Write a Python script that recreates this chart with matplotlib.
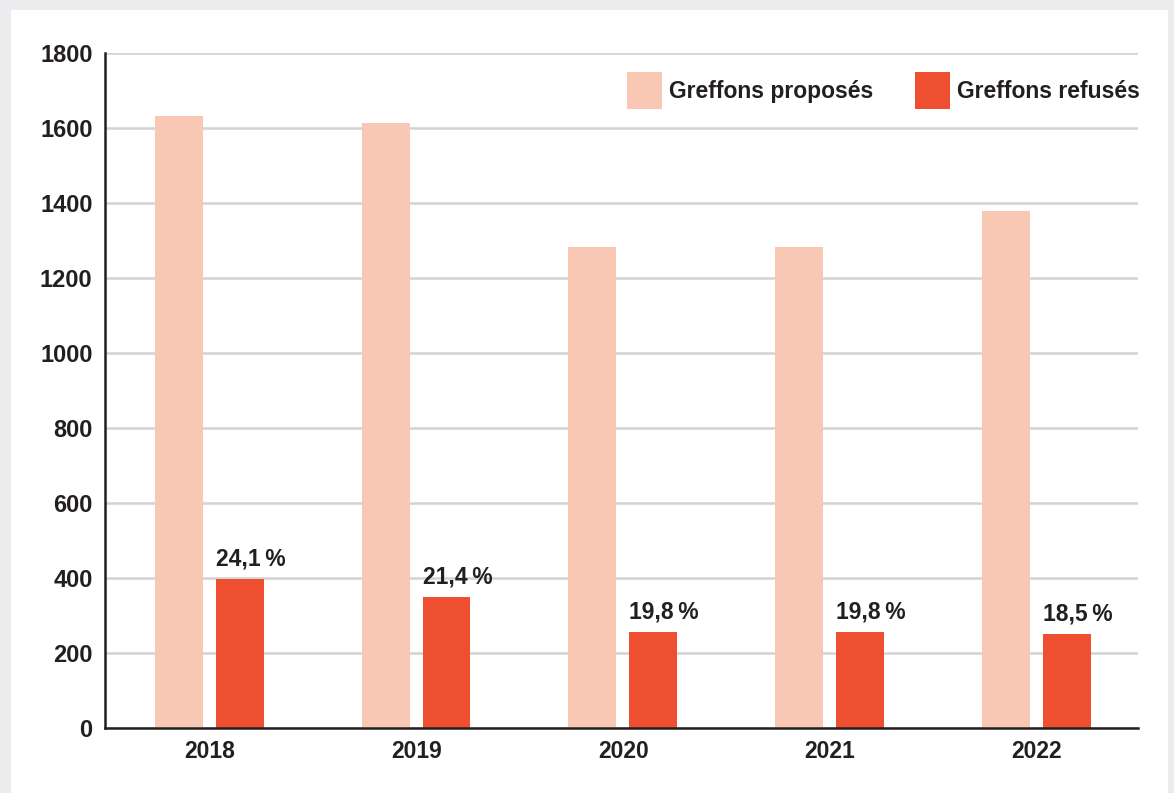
import matplotlib.pyplot as plt
from matplotlib.patches import Rectangle

plt.rcParams['font.family'] = ['Liberation Sans', 'DejaVu Sans']
plt.rcParams['font.weight'] = 'bold'

years = ['2018', '2019', '2020', '2021', '2022']
proposes = [1632, 1613, 1283, 1283, 1379]
refuses = [397, 349, 256, 256, 251]
taux = ['24,1\u2009%', '21,4\u2009%', '19,8\u2009%', '19,8\u2009%', '18,5\u2009%']

c_prop = '#f9c8b4'
c_ref = '#ee4f30'
c_text = '#231f20'

fig = plt.figure(figsize=(11.74, 7.93), dpi=100, facecolor='#ececee')
fig.patches.append(Rectangle((11 / 1174, 0), (1168 - 11) / 1174, (793 - 10) / 793,
                             transform=fig.transFigure, facecolor='white',
                             edgecolor='none', zorder=-5))
ax = fig.add_axes([105 / 1174, 65 / 793, 1033 / 1174, 675 / 793])
ax.set_facecolor('none')
ax.set_zorder(2)

x = range(len(years))
w = 0.232
ax.bar([i - 0.15 for i in x], proposes, width=w, color=c_prop, label='Greffons proposés', zorder=2)
bars = ax.bar([i + 0.145 for i in x], refuses, width=w, color=c_ref, label='Greffons refusés', zorder=2)

for b, t in zip(bars, taux):
    ax.annotate(t, (b.get_x(), b.get_height()), xytext=(0, 6), textcoords='offset points',
                ha='left', va='bottom', fontsize=16.5, fontweight='bold', color=c_text,
                family=['Liberation Sans', 'DejaVu Sans'])

ax.set_xlim(-0.507, 4.49)
ax.set_ylim(0, 1800)
ax.set_yticks(range(0, 1801, 200))
ax.set_xticks(list(x))
ax.set_xticklabels(years)
ax.tick_params(axis='both', length=0, labelcolor=c_text)
ax.tick_params(axis='y', pad=9, labelsize=17)
ax.tick_params(axis='x', pad=9, labelsize=16.5)
for lab in ax.get_xticklabels() + ax.get_yticklabels():
    lab.set_fontweight('bold')

ax.grid(axis='y', color='#d3d3d3', linewidth=1.8, zorder=1)
ax.set_axisbelow(True)
for s in ['top', 'right']:
    ax.spines[s].set_visible(False)
for s in ['left', 'bottom']:
    ax.spines[s].set_color(c_text)
    ax.spines[s].set_linewidth(1.8)
    ax.spines[s].set_zorder(3)

leg = ax.legend(ncol=2, loc='upper right', bbox_to_anchor=(1.002, 1 - 19 / 675),
                frameon=False, borderpad=0, borderaxespad=0, handlelength=1.55,
                handleheight=2.1, handletextpad=0.3, columnspacing=1.8,
                prop={'size': 16.5, 'weight': 'bold'})
for t in leg.get_texts():
    t.set_color(c_text)

fig.savefig('out.png', dpi=100, facecolor=fig.get_facecolor())
